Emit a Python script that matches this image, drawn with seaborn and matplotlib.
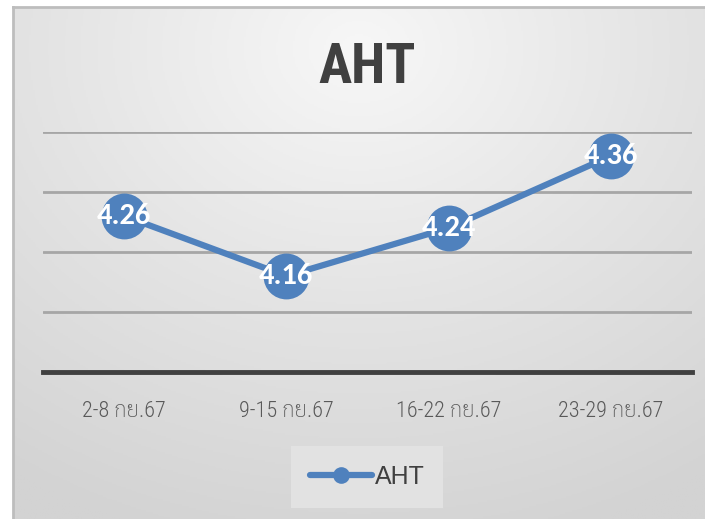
import matplotlib
matplotlib.use("Agg")
import matplotlib.pyplot as plt
import numpy as np
import pandas as pd
import seaborn as sns

sns.set_style("white")

weeks = ["2-8 กย.67", "9-15 กย.67", "16-22 กย.67", "23-29 กย.67"]
aht = [4.26, 4.16, 4.24, 4.36]
series_name = "AHT"

blue = "#4f81bd"
narrow = ["Roboto Condensed", "Fira Sans Condensed", "Archivo Narrow",
          "Noto Sans Thai", "DejaVu Sans"]
tick_font = ["Roboto Condensed", "Sarabun", "IBM Plex Sans Thai",
             "Noto Sans Thai", "DejaVu Sans"]
label_font = ["Carlito", "Lato", "DejaVu Sans"]

df = pd.DataFrame({"week": weeks, "AHT": aht})

fig = plt.figure(figsize=(7.05, 5.19), dpi=100)

# radial grey background panel, like the office chart area
bg = fig.add_axes([13 / 705, 0, 1 - 13 / 705, 1 - 7 / 519])
yy, xx = np.mgrid[0:1:300j, 0:1:400j]
r = np.sqrt(((xx - 0.5) * 1.0) ** 2 + ((yy - 0.08) * 0.9) ** 2)
bg.imshow(r, cmap=matplotlib.colors.LinearSegmentedColormap.from_list(
    "g", ["#f7f7f7", "#e4e4e4", "#d3d3d3"]), aspect="auto",
    extent=[0, 1, 1, 0], vmin=0, vmax=0.9)
bg.set_xlim(0, 1)
bg.set_ylim(1, 0)
bg.set_xticks([])
bg.set_yticks([])
for s in ["left", "top"]:
    bg.spines[s].set_color("#bdbdbd")
    bg.spines[s].set_linewidth(2)
for s in ["right", "bottom"]:
    bg.spines[s].set_visible(False)

ax = fig.add_axes([43 / 705, 1 - 372 / 519, 649 / 705, 240 / 519])
ax.patch.set_alpha(0)
sns.lineplot(data=df, x="week", y="AHT", ax=ax, color=blue, linewidth=4.5,
             marker="o", markersize=33, markeredgewidth=0, label=series_name,
             sort=False)

ax.set_xlim(-0.5, 3.5)
ax.set_ylim(4.0, 4.4)
ax.set_yticks([4.0, 4.1, 4.2, 4.3, 4.4])
ax.yaxis.grid(True, color="#a6a6a6", linewidth=2)
ax.set_yticklabels([])
ax.tick_params(axis="y", length=0)
ax.tick_params(axis="x", length=0, pad=21, labelsize=16, labelcolor="#595959")
for lab in ax.get_xticklabels():
    lab.set_family(tick_font)
    lab.set_fontweight("light")
ax.set_xlabel("")
ax.set_ylabel("")
for s in ["left", "top", "right"]:
    ax.spines[s].set_visible(False)
ax.spines["bottom"].set_color("#404040")
ax.spines["bottom"].set_linewidth(3.5)
ax.spines["bottom"].set_zorder(3)

for i, v in enumerate(aht):
    ax.text(i, v, f"{v:.2f}", ha="center", va="center", color="white",
            fontsize=22, fontweight="bold", family=label_font, zorder=5)

leg = ax.legend(loc="center", bbox_to_anchor=(367 / 705, 1 - 477 / 519),
                bbox_transform=fig.transFigure, frameon=True,
                handlelength=2.5, handletextpad=0.1, borderpad=0.45,
                prop={"family": ["Liberation Sans", "DejaVu Sans"], "size": 18})
leg.get_frame().set_facecolor("#e2e2e2")
leg.get_frame().set_edgecolor("none")
leg.get_frame().set_boxstyle("square", pad=0.3)
leg.get_frame().set_alpha(1)
for t in leg.get_texts():
    t.set_color("#404040")
for h in leg.legend_handles:
    h.set_markersize(12)
    h.set_linewidth(4.5)

fig.text(367 / 705, 1 - 68 / 519, "AHT", ha="center", va="center",
         fontsize=40, fontweight="bold", color="#404040", family=narrow)

fig.savefig("out.png", dpi=100)
